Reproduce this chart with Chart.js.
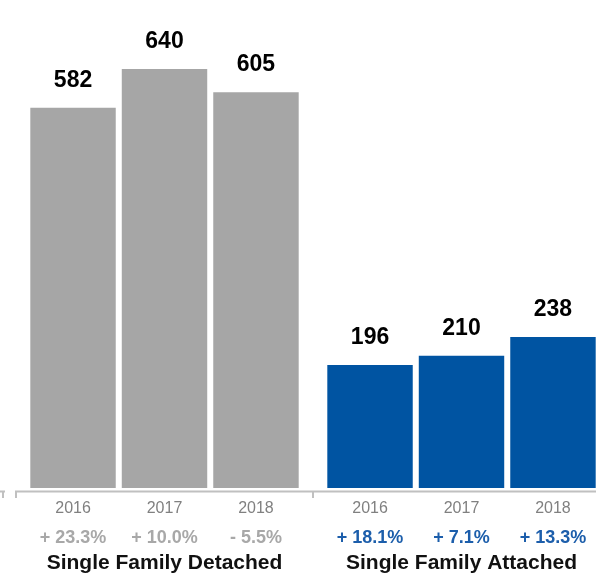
<!DOCTYPE html>
<html>
<head>
<meta charset="utf-8">
<script src="https://cdn.jsdelivr.net/npm/chart.js@4.4.1/dist/chart.umd.min.js"></script>
<style>
  html, body { margin: 0; padding: 0; background: #fff; overflow: hidden; }
  canvas { display: block; }
</style>
</head>
<body>
<canvas id="salesChart" width="610" height="579"></canvas>
<script>
const groups = ['Single Family Detached', 'Single Family Attached'];
const years = ['2016', '2017', '2018'];
const detached = [582, 640, 605];
const attached = [196, 210, 238];
const detachedChange = ['+ 23.3%', '+ 10.0%', '- 5.5%'];
const attachedChange = ['+ 18.1%', '+ 7.1%', '+ 13.3%'];

const GRAY = '#a6a6a6';
const BLUE = '#0054a2';
const FONT = "'Liberation Sans', Arial, sans-serif";

// value labels, years and % changes under each bar, plus the bracket axis
const barText = {
  id: 'barText',
  afterDatasetsDraw(chart) {
    const ctx = chart.ctx;
    const changes = [detachedChange, attachedChange];
    const changeColors = ['#a8a8a8', '#1c5eab'];
    ctx.save();
    ctx.textAlign = 'center';
    ctx.textBaseline = 'alphabetic';
    chart.data.datasets.forEach((ds, i) => {
      chart.getDatasetMeta(i).data.forEach((bar, j) => {
        ctx.fillStyle = '#000';
        ctx.font = 'bold 23px ' + FONT;
        ctx.fillText(ds.data[j], bar.x, bar.y - 21);

        ctx.fillStyle = '#808080';
        ctx.font = '16px ' + FONT;
        ctx.fillText(ds.label, bar.x, 513);

        ctx.fillStyle = changeColors[j];
        ctx.font = 'bold 18px ' + FONT;
        ctx.fillText(changes[j][i], bar.x, 543);
      });
    });

    // axis line with group brackets
    const y = 491.5;
    ctx.strokeStyle = '#c0c0c0';
    ctx.lineWidth = 2;
    ctx.beginPath();
    ctx.moveTo(0, y); ctx.lineTo(5, y);
    ctx.moveTo(16, y); ctx.lineTo(chart.width, y);
    [3, 16, 313].forEach(x => {
      ctx.moveTo(x, y - 1); ctx.lineTo(x, y + 6.5);
    });
    ctx.stroke();
    ctx.restore();
  }
};

new Chart(document.getElementById('salesChart').getContext('2d'), {
  type: 'bar',
  data: {
    labels: groups,
    datasets: years.map((yr, i) => ({
      label: yr,
      data: [detached[i], attached[i]],
      backgroundColor: [GRAY, BLUE],
      borderWidth: 0,
      categoryPercentage: 0.924,
      barPercentage: 0.934
    }))
  },
  options: {
    responsive: false,
    animation: false,
    layout: { padding: { left: 16, right: 0, top: 0, bottom: 0 } },
    scales: {
      // axis in the original does not start at zero
      y: { display: false, min: 11.5, max: 743.5 },
      x: {
        grid: { display: false, drawTicks: false },
        border: { display: false },
        ticks: {
          padding: 63,
          color: '#111',
          font: { family: FONT, size: 21, weight: 'bold' },
          maxRotation: 0,
          autoSkip: false
        },
        afterFit(scale) {
          scale.height = 91;
          scale.paddingLeft = 0;
          scale.paddingRight = 0;
        }
      }
    },
    plugins: {
      legend: { display: false },
      tooltip: { enabled: false }
    }
  },
  plugins: [barText]
});
</script>
</body>
</html>
